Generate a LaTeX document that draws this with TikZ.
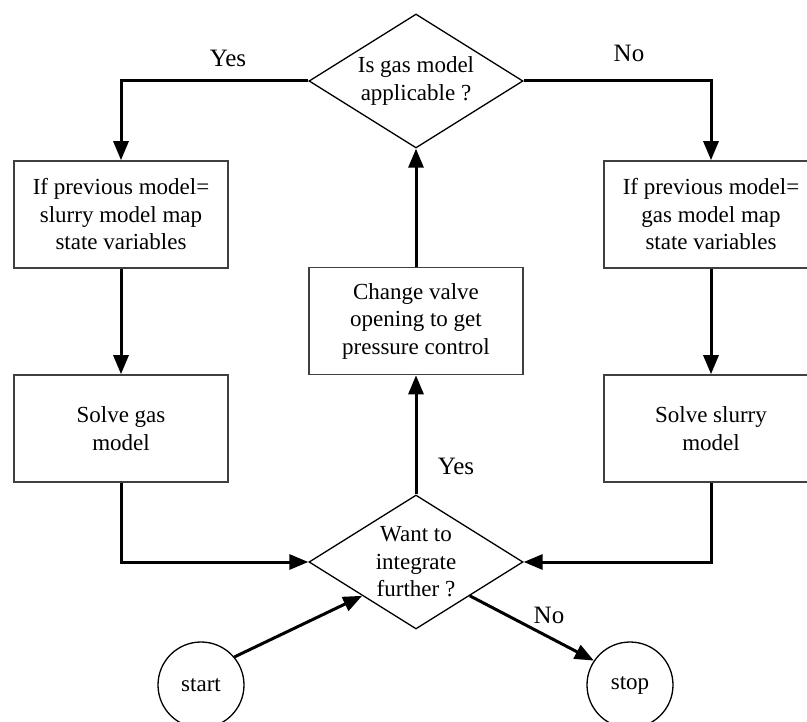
\documentclass[tikz,border=0pt]{standalone}
\usepackage{fontspec}
\setmainfont{Liberation Serif}
\usetikzlibrary{shapes.geometric,arrows.meta}

\begin{document}
\begin{tikzpicture}[x=1pt,y=-1pt,
  every node/.style={inner sep=0pt,align=center,font=\fontsize{23}{27.5}\selectfont},
  box/.style={draw=black!75,line width=1.6pt,minimum width=214pt,minimum height=107pt},
  test/.style={draw,diamond,shape aspect=1.6,line width=1.3pt,minimum width=214pt,minimum height=134pt},
  term/.style={draw,circle,line width=1.3pt,minimum size=86pt},
  answer/.style={anchor=base,font=\fontsize{25}{30}\selectfont},
  flow/.style={line width=3pt,-{Triangle[length=19pt,width=15pt]}}]
\useasboundingbox (0,0) rectangle (807,722);
% decisions
\node [test] (gasok) at (416,81) {Is gas model\\applicable ?};
\node [test] (further) at (416,562) {Want to\\integrate\\further ?};
% process boxes
\node [box] (mapslurry) at (121,214.5) {If previous model=\\slurry model map\\state variables};
\node [box] (mapgas) at (711,214.5) {If previous model=\\gas model map\\state variables};
\node [box] (valve) at (416,321) {Change valve\\opening to get\\pressure control};
\node [box] (solvegas) at (121,428.5) {Solve gas\\model};
\node [box] (solveslurry) at (711,428.5) {Solve slurry\\model};
% terminals
\node [term] (start) at (201,685) {start};
\node [term] (stop) at (630,685) {stop};
% connectors
\draw [flow] (gasok.west) -| (mapslurry.north);
\draw [flow] (gasok.east) -| (mapgas.north);
\draw [flow] (mapslurry) -- (solvegas);
\draw [flow] (mapgas) -- (solveslurry);
\draw [flow] (solvegas.south) |- (further.west);
\draw [flow] (solveslurry.south) |- (further.east);
\draw [flow] (further.north) -- (valve.south);
\draw [flow] (valve.north) -- (gasok.south);
\draw [flow] (start.40) -- (further.south west);
\draw [flow] (further.south east) -- (stop.146);
% answers
\node [answer] (yes1) at (228,67) {Yes};
\node [answer] (no1) at (629,62) {No};
\node [answer] (yes2) at (456,475) {Yes};
\node [answer] (no2) at (549,623) {No};
\end{tikzpicture}
\end{document}
